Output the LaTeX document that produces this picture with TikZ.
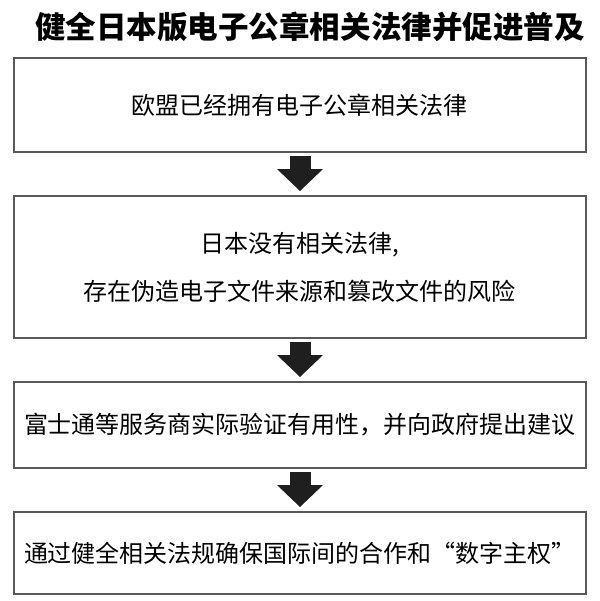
\documentclass[tikz,border=0pt]{standalone}
\usepackage{fontspec}
\setmainfont{Noto Sans CJK SC}
\usetikzlibrary{positioning,arrows.meta}

\begin{document}
\begin{tikzpicture}[x=0.75pt,y=-0.75pt,node distance=31.5pt,
  box/.style={draw=black!65,line width=1.5pt,minimum width=429pt,
  inner sep=0pt,align=center,font=\fontsize{18pt}{36pt}\selectfont},
  bigarrow/.style={draw=black!88,line width=15.75pt,
  -{Triangle[length=16.5pt,width=34.5pt,line width=0pt]},
  shorten <=2.25pt,shorten >=3pt}]

  \useasboundingbox (0,0) rectangle (600,601);

  % title and the four steps
  \node[font=\bfseries\fontsize{22.9pt}{24pt}\selectfont] (title) at (310,27)
    {健全日本版电子公章相关法律并促进普及};
  \node[box,minimum height=70.5pt] (eu) at (300,105)
    {欧盟已经拥有电子公章相关法律};
  \node[box,minimum height=106.5pt,below=of eu] (jp)
    {日本没有相关法律,\\存在伪造电子文件来源和篡改文件的风险};
  \node[box,minimum height=64.5pt,below=of jp] (fujitsu)
    {富士通等服务商实际验证有用性，并向政府提出建议};
  \node[box,minimum height=61.5pt,below=of fujitsu] (law)
    {通过健全相关法规确保国际间的合作和“数字主权”};

  % block arrows between the steps
  \draw[bigarrow] (eu) -- (jp);
  \draw[bigarrow] (jp) -- (fujitsu);
  \draw[bigarrow] (fujitsu) -- (law);

\end{tikzpicture}
\end{document}
